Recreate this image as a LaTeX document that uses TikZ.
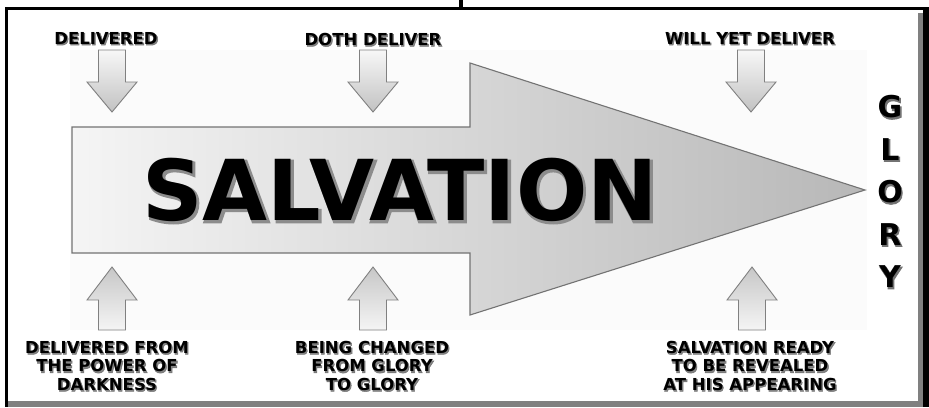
\documentclass[tikz,border=0pt]{standalone}
\usepackage{fontspec}
\setmainfont{DejaVu Sans}
\newfontfamily\halofont[BoldFeatures={FakeBold=3}]{DejaVu Sans}
\newcommand\glabel[3]{%
  \node[halo,xshift=1pt,yshift=-1pt] (#1h) at (#2) {#3};
  \node[lbl] (#1) at (#2) {#3};}
\begin{document}
\begin{tikzpicture}[x=1pt,y=-1pt,
  lbl/.style={font=\bfseries\fontsize{16.5}{18.5}\selectfont, align=center, inner sep=0, anchor=north},
  halo/.style={lbl, font=\halofont\bfseries\fontsize{16.5}{18.5}\selectfont, text=black!60, opacity=0.8},
  glory/.style={font=\bfseries\fontsize{30}{30}\selectfont, inner sep=0},
  gloryhalo/.style={font=\halofont\bfseries\fontsize{30}{30}\selectfont, inner sep=0, text=black!55, xshift=1pt, yshift=-1pt},
  mainarrow/.style={draw=black!55, line width=1.1pt, left color=black!4, right color=black!28},
  smallarr/.style={draw=black!50, line width=0.9pt},
  downarr/.pic={\draw[smallarr, top color=black!3, bottom color=black!24]
     (-13.5,0) -- (13.5,0) -- (13.5,32) -- (25,32) -- (0,62) -- (-25,32) -- (-13.5,32) -- cycle;},
  uparr/.pic={\draw[smallarr, top color=black!22, bottom color=black!4]
     (0,0) -- (25,33) -- (13.5,33) -- (13.5,63) -- (-13.5,63) -- (-13.5,33) -- (-25,33) -- cycle;}
]
\useasboundingbox (0,0) rectangle (929,407);
\fill[white] (0,0) rectangle (929,407);
% faint background panel
\fill[black!1.5] (70,50) rectangle (867,330);
% frame
\fill[black] (459,0) rectangle (463,8);
\fill[black] (5,7) rectangle (929,10);
\fill[black] (5,7) rectangle (8,407);
\fill[black] (923,7) rectangle (929,407);
\fill[black!50] (918,13) rectangle (923,407);
\fill[black!50] (8,401) rectangle (923,407);
% main arrow
\draw[mainarrow] (72,127) -- (470,127) -- (470,63) -- (865,190) -- (470,315) -- (470,253) -- (72,253) -- cycle;
% big text
\node[inner sep=0, anchor=north, text=black!45, font=\halofont\bfseries\fontsize{84}{84}\selectfont, xshift=1.5pt, yshift=-1.5pt] (salvh) at (400,158) {SALVATION};
\node[inner sep=0, anchor=north, font=\bfseries\fontsize{84}{84}\selectfont] (salv) at (400,158) {SALVATION};
% small arrows
\pic at (112,50) {downarr};
\pic at (373,50) {downarr};
\pic at (751,50) {downarr};
\pic at (112,267) {uparr};
\pic at (373,267) {uparr};
\pic at (752,267) {uparr};
% labels
\glabel{d1}{106,32}{DELIVERED}
\glabel{d2}{373,33}{DOTH DELIVER}
\glabel{d3}{750,32}{WILL YET DELIVER}
\glabel{u1}{107,341}{DELIVERED FROM\\THE POWER OF\\DARKNESS}
\glabel{u2}{372,341}{BEING CHANGED\\FROM GLORY\\TO GLORY}
\glabel{u3}{750,341}{SALVATION READY\\TO BE REVEALED\\AT HIS APPEARING}
% GLORY
\node[gloryhalo] (g1h) at (890,107) {G};
\node[gloryhalo] (g2h) at (890,149.5) {L};
\node[gloryhalo] (g3h) at (890,192) {O};
\node[gloryhalo] (g4h) at (890,234.5) {R};
\node[gloryhalo] (g5h) at (890,277) {Y};
\node[glory] (g1) at (890,107) {G};
\node[glory] (g2) at (890,149.5) {L};
\node[glory] (g3) at (890,192) {O};
\node[glory] (g4) at (890,234.5) {R};
\node[glory] (g5) at (890,277) {Y};
\end{tikzpicture}
\end{document}
